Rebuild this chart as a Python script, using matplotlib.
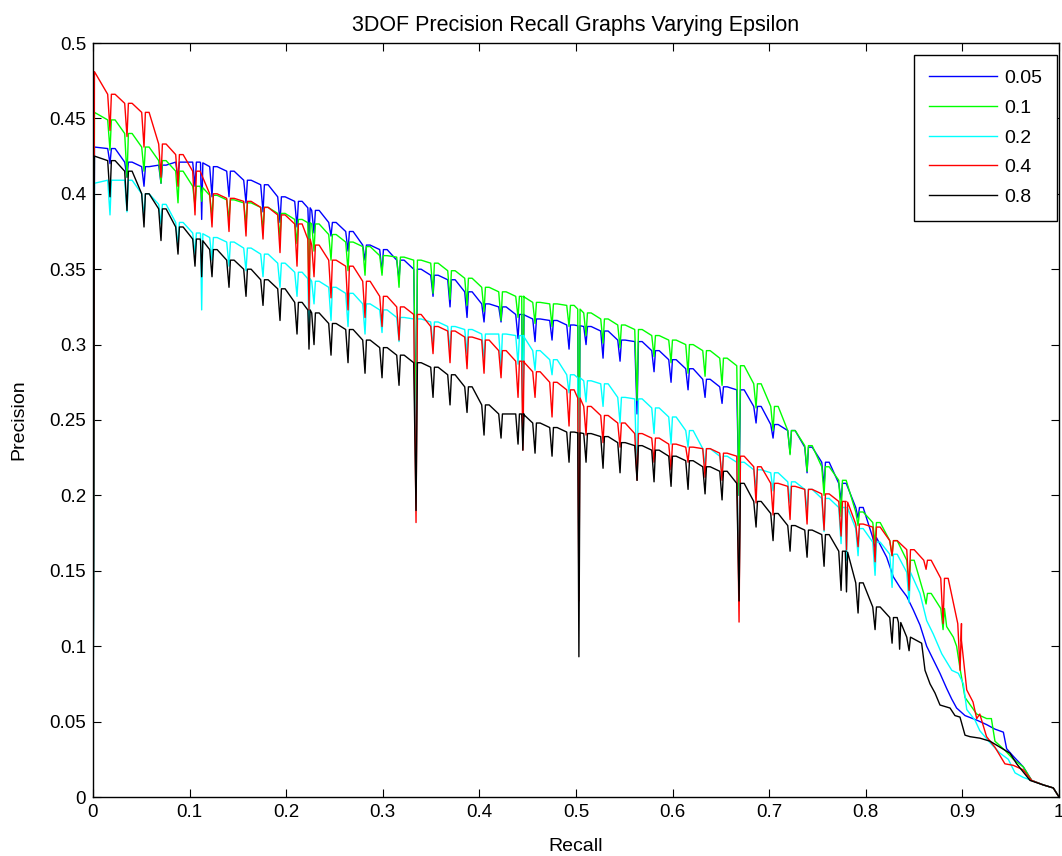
import numpy as np
import matplotlib
matplotlib.use("Agg")
import matplotlib.pyplot as plt

plt.rcParams['font.family'] = ['Liberation Sans', 'DejaVu Sans']

# ---------------- data ----------------
LABELS = ['0.05', '0.1', '0.2', '0.4', '0.8']
COLORS = ['#0000ff', '#00ff00', '#00ffff', '#ff0000', '#000000']

X_TICKS = [0, 0.1, 0.2, 0.3, 0.4, 0.5, 0.6, 0.7, 0.8, 0.9, 1.0]
X_TICK_LABELS = ['0', '0.1', '0.2', '0.3', '0.4', '0.5', '0.6', '0.7', '0.8', '0.9', '1']
Y_TICKS = [0, 0.05, 0.1, 0.15, 0.2, 0.25, 0.3, 0.35, 0.4, 0.45, 0.5]
Y_TICK_LABELS = ['0', '0.05', '0.1', '0.15', '0.2', '0.25', '0.3', '0.35', '0.4', '0.45', '0.5']

# recall positions of the regular saw-tooth dips
TOOTH_R = [0.0176, 0.0352, 0.0528, 0.0704, 0.0880, 0.1056, 0.1232, 0.1408, 0.1584, 0.1760,
           0.1936, 0.2112, 0.2288, 0.2464, 0.2640, 0.2816, 0.2992, 0.3168, 0.3344, 0.3520,
           0.3696, 0.3872, 0.4048, 0.4224, 0.4400, 0.4576, 0.4752, 0.4928, 0.5104, 0.5280,
           0.5456, 0.5632, 0.5808, 0.5984, 0.6160, 0.6336, 0.6512, 0.6688, 0.6864, 0.7040,
           0.7216, 0.7392, 0.7568, 0.7744, 0.7920, 0.8096, 0.8272, 0.8448, 0.8624, 0.8800,
           0.8976]
# extra isolated spikes
SPIKE_R = [0.1125, 0.2236, 0.4450, 0.5030, 0.7800, 0.8350]
END_R = [0.9838, 0.9941, 1.0]
END_P = [0.008, 0.006, 0.0]
nan = float('nan')

# eps = 0.05 (blue)
blue_start = 0.431
blue_env = [0.430, 0.421, 0.418, 0.419, 0.421, 0.421, 0.418, 0.415, 0.409, 0.406,
            0.398, 0.395, 0.389, 0.381, 0.375, 0.366, 0.363, 0.356, 0.350, 0.346,
            0.343, 0.335, 0.327, 0.325, 0.320, 0.317, 0.316, 0.313, 0.312, 0.309,
            0.303, 0.302, 0.296, 0.290, 0.284, 0.277, 0.272, 0.270, 0.259, 0.247,
            0.243, 0.232, 0.222, 0.208, 0.192, 0.172]
blue_dip = [0.420, 0.411, 0.405, 0.407, 0.410, 0.405, 0.398, 0.398, 0.394, 0.388,
            0.381, 0.378, 0.374, 0.372, 0.362, 0.356, 0.348, 0.343, 0.250, 0.332,
            0.325, 0.318, 0.315, 0.315, 0.304, 0.302, 0.303, 0.297, 0.300, 0.291,
            0.289, 0.254, 0.282, 0.275, 0.270, 0.265, 0.261, 0.200, 0.248, 0.238,
            0.228, 0.215, 0.206, 0.197, 0.185, 0.165]
blue_spike = [0.383, 0.370, 0.250, 0.200, nan, nan]
blue_tail_r = [0.8216, 0.8285, 0.8354, 0.8424, 0.8492, 0.8561, 0.8630, 0.8699, 0.8768, 0.8837,
               0.8889, 0.8940, 0.9027, 0.9148, 0.9251, 0.9337, 0.9424, 0.9458, 0.9527, 0.9630,
               0.9717]
blue_tail_p = [0.159, 0.146, 0.139, 0.133, 0.124, 0.114, 0.100, 0.091, 0.082, 0.072,
               0.065, 0.059, 0.054, 0.051, 0.048, 0.045, 0.043, 0.032, 0.027, 0.020,
               0.011]

# eps = 0.1 (green)
green_start = 0.454
green_env = [0.449, 0.440, 0.431, 0.422, 0.415, 0.405, 0.399, 0.396, 0.394, 0.391,
             0.387, 0.383, 0.380, 0.373, 0.368, 0.365, 0.359, 0.358, 0.356, 0.354,
             0.349, 0.344, 0.338, 0.335, 0.332, 0.328, 0.327, 0.326, 0.321, 0.317,
             0.313, 0.310, 0.306, 0.303, 0.300, 0.296, 0.291, 0.286, 0.274, 0.259,
             0.243, 0.233, 0.219, 0.210, 0.189, 0.182, 0.170, 0.157, 0.135, 0.125]
green_dip = [0.429, 0.411, 0.415, 0.407, 0.394, 0.392, 0.385, 0.383, 0.380, 0.376,
             0.371, 0.367, 0.362, 0.356, 0.349, 0.346, 0.346, 0.338, 0.240, 0.334,
             0.330, 0.326, 0.322, 0.316, 0.318, 0.314, 0.312, 0.312, 0.306, 0.301,
             0.298, 0.263, 0.292, 0.288, 0.281, 0.279, 0.273, 0.200, 0.258, 0.243,
             0.227, 0.216, 0.200, 0.186, 0.180, 0.168, 0.160, 0.137, 0.128, 0.111]
green_spike = [0.395, 0.323, 0.240, 0.180, nan, nan]
green_tail_r = [0.8837, 0.8906, 0.8940, 0.8976, 0.9027, 0.9148, 0.9251, 0.9300, 0.9337, 0.9440,
                0.9527, 0.9630, 0.9717]
green_tail_p = [0.113, 0.106, 0.100, 0.085, 0.066, 0.055, 0.052, 0.052, 0.037, 0.031,
                0.025, 0.020, 0.011]

# eps = 0.2 (cyan)
cyan_start = 0.407
cyan_env = [0.409, 0.409, 0.400, 0.393, 0.381, 0.374, 0.371, 0.368, 0.364, 0.360,
            0.354, 0.348, 0.342, 0.338, 0.334, 0.327, 0.323, 0.318, 0.317, 0.315,
            0.312, 0.310, 0.307, 0.307, 0.306, 0.296, 0.290, 0.280, 0.276, 0.274,
            0.265, 0.264, 0.258, 0.252, 0.243, 0.231, 0.226, 0.222, 0.217, 0.215,
            0.209, 0.204, 0.198, 0.192, 0.178, 0.169, 0.161, 0.149]
cyan_dip = [0.386, 0.388, 0.385, 0.380, 0.365, 0.360, 0.356, 0.352, 0.349, 0.345,
            0.338, 0.332, 0.327, 0.316, 0.312, 0.307, 0.308, 0.302, 0.220, 0.298,
            0.296, 0.294, 0.290, 0.285, 0.287, 0.283, 0.280, 0.268, 0.262, 0.259,
            0.248, 0.210, 0.241, 0.234, 0.232, 0.220, 0.214, 0.150, 0.205, 0.203,
            0.195, 0.190, 0.176, 0.168, 0.160, 0.147, 0.139, 0.129]
cyan_spike = [0.323, 0.310, 0.250, 0.160, 0.157, nan]
cyan_tail_r = [0.8561, 0.8630, 0.8699, 0.8786, 0.8890, 0.8958, 0.9010, 0.9045, 0.9130, 0.9180,
               0.9286, 0.9390, 0.9475, 0.9545, 0.9630, 0.9717]
cyan_tail_p = [0.135, 0.117, 0.108, 0.095, 0.084, 0.082, 0.075, 0.058, 0.051, 0.044,
               0.036, 0.029, 0.025, 0.016, 0.013, 0.011]

# eps = 0.4 (red)
red_start = 0.481
red_env = [0.466, 0.460, 0.454, 0.433, 0.426, 0.415, 0.400, 0.397, 0.395, 0.391,
           0.386, 0.380, 0.366, 0.356, 0.352, 0.342, 0.332, 0.325, 0.320, 0.312,
           0.309, 0.305, 0.303, 0.296, 0.289, 0.282, 0.275, 0.270, 0.259, 0.253,
           0.248, 0.241, 0.238, 0.234, 0.232, 0.231, 0.228, 0.226, 0.219, 0.208,
           0.206, 0.204, 0.201, 0.196, 0.181, 0.179, 0.170, 0.164, 0.157, 0.145,
           0.115]
red_dip = [0.442, 0.438, 0.431, 0.411, 0.405, 0.386, 0.378, 0.375, 0.372, 0.370,
           0.361, 0.352, 0.345, 0.331, 0.323, 0.318, 0.312, 0.303, 0.182, 0.294,
           0.288, 0.284, 0.281, 0.278, 0.265, 0.265, 0.252, 0.246, 0.240, 0.235,
           0.232, 0.210, 0.222, 0.217, 0.222, 0.212, 0.210, 0.116, 0.195, 0.187,
           0.184, 0.181, 0.177, 0.173, 0.166, 0.156, 0.160, 0.137, 0.151, 0.115,
           0.084]
red_spike = [nan, 0.323, 0.230, 0.130, 0.164, nan]
red_tail_r = [0.8990, 0.9045, 0.9110, 0.9148, 0.9180, 0.9250, 0.9337, 0.9440, 0.9527, 0.9630,
              0.9717]
red_tail_p = [0.104, 0.071, 0.063, 0.052, 0.055, 0.040, 0.033, 0.022, 0.021, 0.018,
              0.011]

# eps = 0.8 (black)
black_start = 0.425
black_env = [0.422, 0.415, 0.400, 0.390, 0.378, 0.370, 0.363, 0.356, 0.350, 0.343,
             0.337, 0.328, 0.321, 0.314, 0.310, 0.303, 0.298, 0.293, 0.288, 0.285,
             0.280, 0.272, 0.260, 0.254, 0.254, 0.248, 0.245, 0.242, 0.241, 0.239,
             0.235, 0.233, 0.230, 0.226, 0.223, 0.219, 0.216, 0.208, 0.196, 0.188,
             0.180, 0.177, 0.174, 0.163, 0.142, 0.126, 0.119, 0.106]
black_dip = [0.398, 0.389, 0.378, 0.369, 0.360, 0.352, 0.345, 0.338, 0.332, 0.326,
             0.316, 0.307, 0.300, 0.293, 0.288, 0.281, 0.278, 0.273, 0.190, 0.265,
             0.260, 0.255, 0.240, 0.238, 0.234, 0.228, 0.226, 0.222, 0.222, 0.218,
             0.215, 0.210, 0.209, 0.206, 0.204, 0.201, 0.197, 0.130, 0.179, 0.170,
             0.163, 0.159, 0.153, 0.137, 0.122, 0.111, 0.102, 0.097]
black_spike = [0.345, 0.297, 0.230, 0.093, 0.136, 0.098]
black_tail_r = [0.8578, 0.8613, 0.8665, 0.8716, 0.8768, 0.8872, 0.8923, 0.8975, 0.9027, 0.9079,
                0.9182, 0.9286, 0.9390, 0.9493, 0.9562, 0.9700]
black_tail_p = [0.102, 0.084, 0.075, 0.069, 0.061, 0.059, 0.054, 0.053, 0.041, 0.040,
                0.039, 0.037, 0.033, 0.029, 0.022, 0.011]

SERIES = [
    (blue_start, blue_env, blue_dip, blue_spike, blue_tail_r, blue_tail_p),
    (green_start, green_env, green_dip, green_spike, green_tail_r, green_tail_p),
    (cyan_start, cyan_env, cyan_dip, cyan_spike, cyan_tail_r, cyan_tail_p),
    (red_start, red_env, red_dip, red_spike, red_tail_r, red_tail_p),
    (black_start, black_env, black_dip, black_spike, black_tail_r, black_tail_p),
]


def build_curve(start, env, dip, spikes, tail_r, tail_p, w=0.0024):
    xs = [0.0, 0.0015]
    ys = [0.0, start]
    n = len(env)
    for k in range(n):
        r = TOOTH_R[k]
        xs += [r - w, r, r + w * 0.6]
        ys += [env[k], dip[k], env[k]]
        if k < n - 1:
            xs.append(r + 0.3 * (TOOTH_R[k + 1] - r))
            ys.append(env[k])
    xs += list(tail_r) + END_R
    ys += list(tail_p) + END_P
    xs = np.array(xs)
    ys = np.array(ys)
    for s, d in zip(SPIKE_R, spikes):
        if np.isnan(d):
            continue
        base = np.interp(s, xs, ys)
        i = np.searchsorted(xs, s)
        xs = np.insert(xs, i, [s - 0.0012, s, s + 0.0012])
        ys = np.insert(ys, i, [base, d, base])
    return xs, ys


# ---------------- figure ----------------
fig = plt.figure(figsize=(10.62, 8.56), dpi=100)
ax = fig.add_axes([93 / 1062, 1 - 797 / 856, 966 / 1062, 754 / 856])

for (start, env, dip, spk, tr, tp), lab, col in zip(SERIES, LABELS, COLORS):
    x, y = build_curve(start, env, dip, spk, tr, tp)
    ax.plot(x, y, color=col, lw=1.0, label=lab)

ax.set_xlim(0, 1)
ax.set_ylim(0, 0.5)
ax.set_xticks(X_TICKS)
ax.set_xticklabels(X_TICK_LABELS)
ax.set_yticks(Y_TICKS)
ax.set_yticklabels(Y_TICK_LABELS)
ax.tick_params(direction='in', top=True, right=True, length=6, width=0.8,
               labelsize=13.5, pad=5)
for sp in ax.spines.values():
    sp.set_linewidth(1.0)

ax.set_xlabel('Recall', fontsize=14, labelpad=12)
ax.set_ylabel('Precision', fontsize=14, labelpad=16)
ax.set_title('3DOF Precision Recall Graphs Varying Epsilon', fontsize=15.5, pad=9)

leg = ax.legend(loc='upper right', bbox_to_anchor=(0.998, 0.984), borderaxespad=0,
                fontsize=14, handlelength=3.5, handletextpad=0.4, labelspacing=0.62,
                borderpad=0.75, fancybox=False, framealpha=1, edgecolor='black')
leg.get_frame().set_linewidth(1.0)

fig.savefig('out.png', dpi=100)
